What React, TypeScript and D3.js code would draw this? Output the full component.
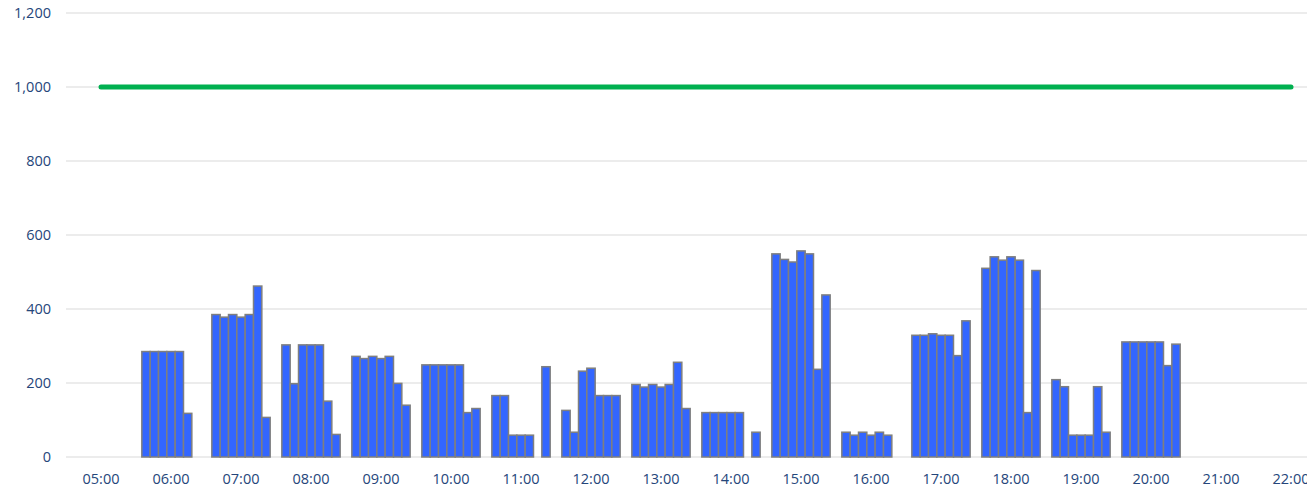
import React, { useEffect, useRef } from "react";
import * as d3 from "d3";

// hour categories on the x axis
const hours = [
  "05:00", "06:00", "07:00", "08:00", "09:00", "10:00", "11:00", "12:00", "13:00",
  "14:00", "15:00", "16:00", "17:00", "18:00", "19:00", "20:00", "21:00", "22:00",
];

// seven sub-slots per hour, null = no bar
const slots = [0, 1, 2, 3, 4, 5, 6];

const h05 = [null, null, null, null, null, null, null];
const h06 = [285, 285, 285, 285, 285, 118, null];
const h07 = [385, 378, 385, 378, 385, 462, 107];
const h08 = [303, 198, 303, 303, 303, 151, 61];
const h09 = [272, 266, 272, 266, 272, 199, 140];
const h10 = [249, 249, 249, 249, 249, 120, 131];
const h11 = [166, 166, 59, 59, 59, null, 244];
const h12 = [126, 67, 232, 240, 166, 166, 166];
const h13 = [196, 189, 196, 189, 196, 256, 131];
const h14 = [120, 120, 120, 120, 120, null, 67];
const h15 = [549, 534, 527, 557, 549, 237, 438];
const h16 = [67, 59, 67, 59, 67, 59, null];
const h17 = [329, 329, 333, 329, 329, 274, 368];
const h18 = [510, 541, 532, 541, 532, 120, 504];
const h19 = [209, 190, 59, 59, 59, 190, 67];
const h20 = [311, 311, 311, 311, 311, 247, 305];
const h21 = [null, null, null, null, null, null, null];
const h22 = [null, null, null, null, null, null, null];

const hourValues: (number | null)[][] = [
  h05, h06, h07, h08, h09, h10, h11, h12, h13, h14, h15, h16, h17, h18, h19, h20, h21, h22,
];

const yTicks = [0, 200, 400, 600, 800, 1000, 1200];
const target = 1000;

const W = 1307;
const H = 491;

const App: React.FC = () => {
  const svgRef = useRef<SVGSVGElement | null>(null);

  useEffect(() => {
    if (!svgRef.current) return;
    const svg = d3.select(svgRef.current);
    svg.selectAll("*").remove();

    const font = "'Open Sans', 'Noto Sans', sans-serif";
    const textColor = "#25467a";
    const left = 66;

    const x = d3.scaleBand<string>().domain(hours).range([left, left + hours.length * 70]);
    const sub = d3
      .scaleBand<number>()
      .domain(slots)
      .range([0, x.bandwidth()])
      .paddingOuter(0.7);

    const y = d3.scaleLinear().domain([0, 1200]).range([457, 13]);

    // gridlines
    svg
      .append("g")
      .selectAll("line")
      .data(yTicks)
      .enter()
      .append("line")
      .attr("x1", left)
      .attr("x2", W)
      .attr("y1", (d) => y(d))
      .attr("y2", (d) => y(d))
      .attr("stroke", "#d9d9d9")
      .attr("stroke-width", 1);

    // y labels
    svg
      .append("g")
      .selectAll("text")
      .data(yTicks)
      .enter()
      .append("text")
      .attr("x", 51)
      .attr("y", (d) => y(d))
      .attr("dy", "0.35em")
      .attr("text-anchor", "end")
      .attr("font-family", font)
      .attr("font-size", 14.5)
      .attr("fill", textColor)
      .text((d) => d3.format(",")(d));

    // bars
    const bars = hours.flatMap((h, i) =>
      hourValues[i]
        .map((v, j) => ({ hour: h, slot: j, value: v }))
        .filter((d) => d.value !== null)
    );

    svg
      .append("g")
      .selectAll("rect")
      .data(bars)
      .enter()
      .append("rect")
      .attr("x", (d) => x(d.hour)! + sub(d.slot)!)
      .attr("y", (d) => y(d.value as number))
      .attr("width", sub.bandwidth())
      .attr("height", (d) => y(0) - y(d.value as number))
      .attr("fill", "#3366ff")
      .attr("stroke", "#7f7f7f")
      .attr("stroke-width", 1.5);

    // target line
    svg
      .append("line")
      .attr("x1", x(hours[0])! + x.bandwidth() / 2)
      .attr("x2", x(hours[hours.length - 1])! + x.bandwidth() / 2)
      .attr("y1", y(target))
      .attr("y2", y(target))
      .attr("stroke", "#00b050")
      .attr("stroke-width", 5)
      .attr("stroke-linecap", "round");

    // x labels
    svg
      .append("g")
      .selectAll("text")
      .data(hours)
      .enter()
      .append("text")
      .attr("x", (d) => x(d)! + x.bandwidth() / 2)
      .attr("y", 479)
      .attr("dy", "0.35em")
      .attr("text-anchor", "middle")
      .attr("font-family", font)
      .attr("font-size", 14.5)
      .attr("fill", textColor)
      .text((d) => d);
  }, []);

  return (
    <div style={{ position: "absolute", left: 0, top: 0, width: W, height: H, overflow: "hidden", background: "#fff" }}>
      <svg ref={svgRef} width={W} height={H}></svg>
    </div>
  );
};

export default App;
